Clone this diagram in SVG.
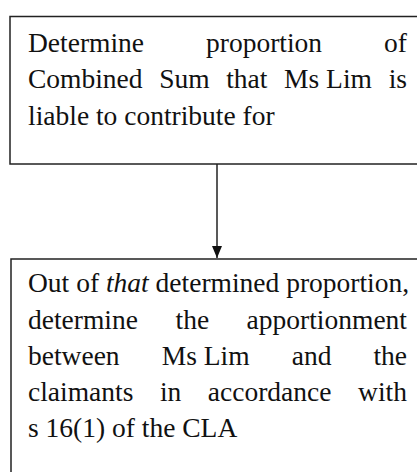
<svg xmlns="http://www.w3.org/2000/svg" width="417" height="472" viewBox="0 0 417 472">
<style>
.box{fill:#fff;stroke:#222;stroke-width:1.5}
.t{font-family:"Liberation Serif","Times New Roman",serif;font-size:27.5px;fill:#111}
.e{text-anchor:end}
.conn{stroke:#222;stroke-width:1.5;fill:none}
</style>
<defs>
<marker id="arr" markerWidth="12" markerHeight="10" refX="12" refY="5" orient="auto" markerUnits="userSpaceOnUse" viewBox="0 0 12 10">
<path d="M0,0 L12,5 L0,10 Z" fill="#111"/>
</marker>
</defs>
<rect width="417" height="472" fill="#fff"/>
<g id="node1">
<rect class="box" x="10" y="16.5" width="420" height="147.5"/>
<text class="t" x="28" y="51.5">Determine</text>
<text class="t" x="206" y="51.5">proportion</text>
<text class="t e" x="407" y="51.5">of</text>
<text class="t" x="28" y="88">Combined</text>
<text class="t" x="159.2" y="88">Sum</text>
<text class="t" x="226.2" y="88">that</text>
<text class="t" x="284.1" y="88">Ms Lim</text>
<text class="t e" x="407" y="88">is</text>
<text class="t" x="28" y="124.5">liable to contribute for</text>
</g>
<g id="node2">
<rect class="box" x="11" y="259" width="420" height="230"/>
<text class="t" x="28" y="292">Out of <tspan font-style="italic">that</tspan> determined proportion,</text>
<text class="t" x="28" y="328.5">determine</text>
<text class="t" x="175.5" y="328.5">the</text>
<text class="t e" x="407" y="328.5">apportionment</text>
<text class="t" x="28" y="365">between</text>
<text class="t" x="161.7" y="365">Ms Lim</text>
<text class="t" x="291.7" y="365">and</text>
<text class="t e" x="407" y="365">the</text>
<text class="t" x="28" y="401">claimants</text>
<text class="t" x="159.9" y="401">in</text>
<text class="t" x="207.8" y="401">accordance</text>
<text class="t e" x="407" y="401">with</text>
<text class="t" x="28" y="437">s 16(1) of the CLA</text>
</g>
<g id="connectors">
<line class="conn" x1="217" y1="164" x2="217" y2="258" marker-end="url(#arr)"/>
</g>
</svg>
